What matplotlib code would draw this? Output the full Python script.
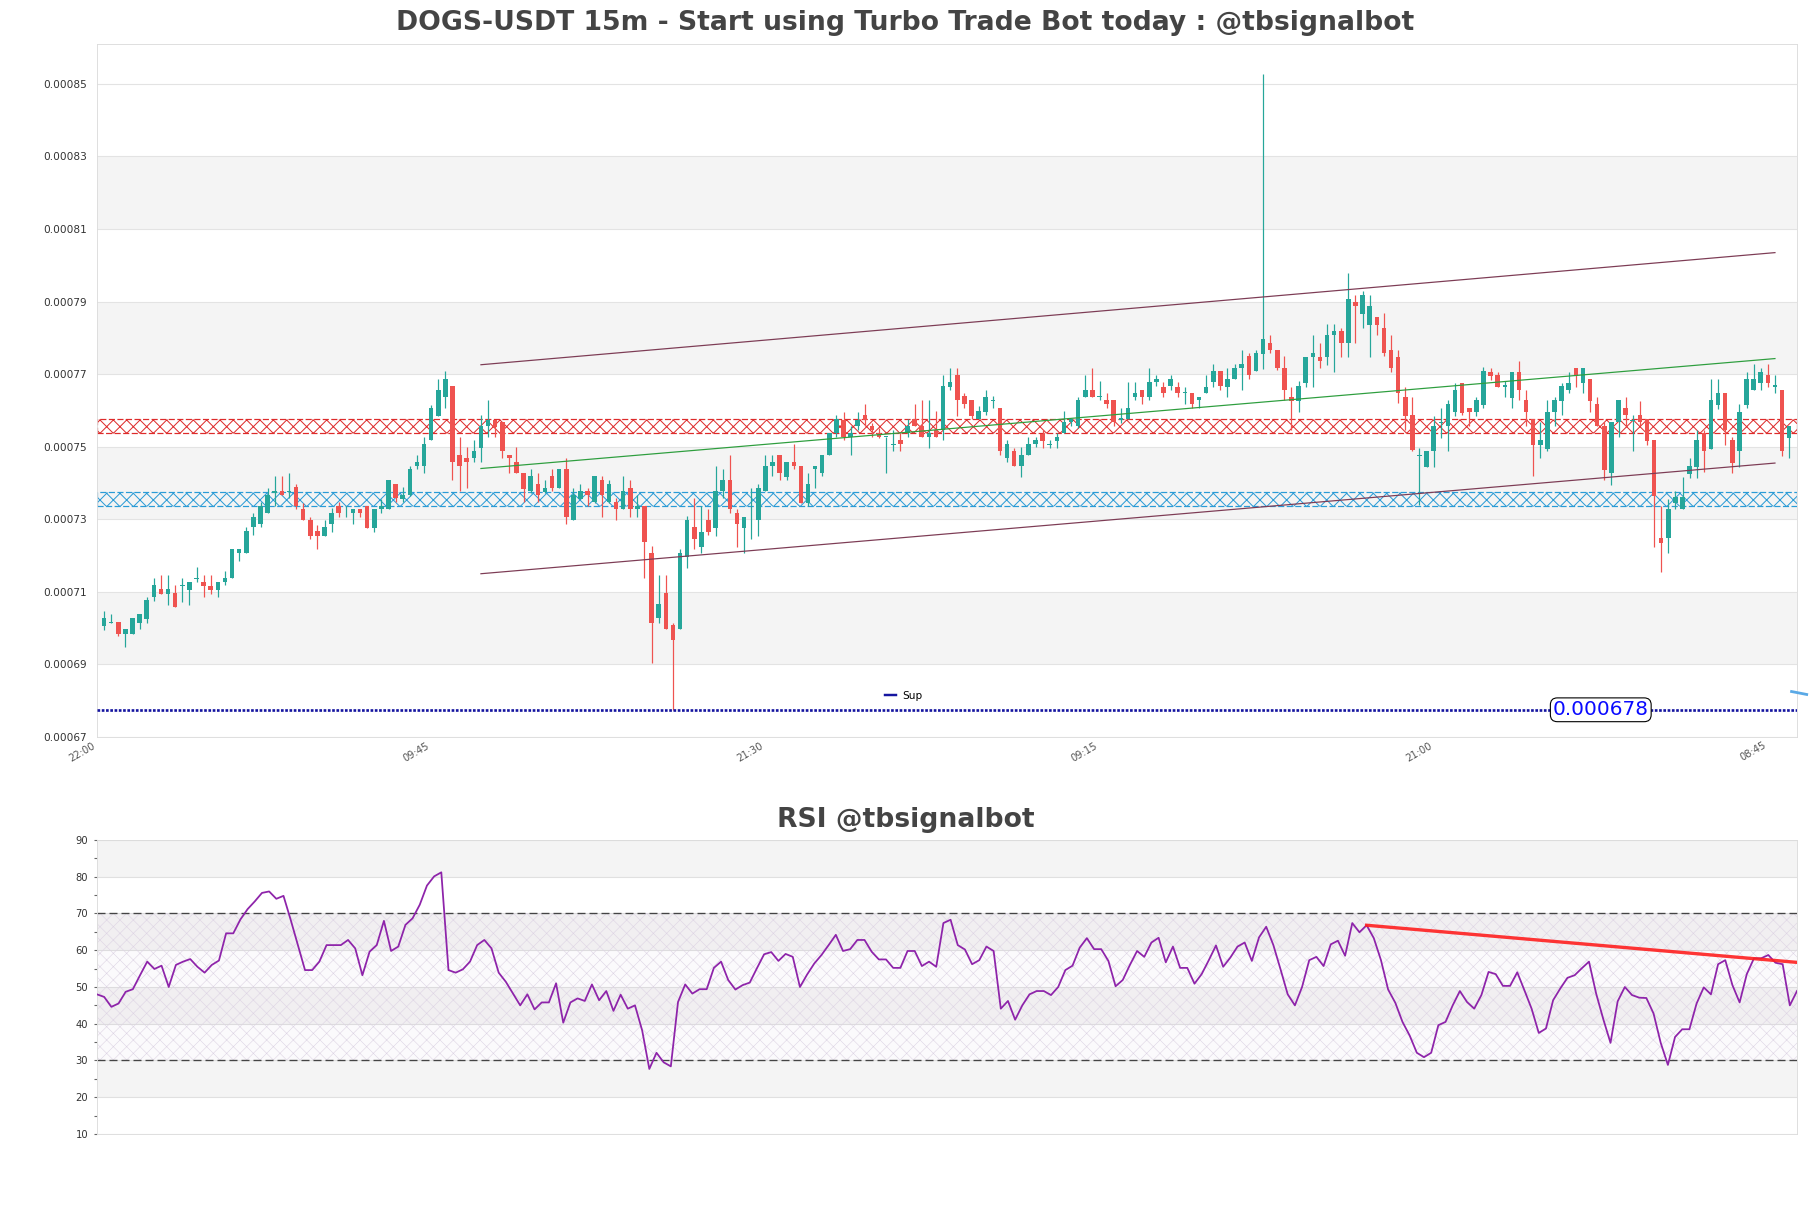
import numpy as np
import matplotlib
matplotlib.use("Agg")
import matplotlib.pyplot as plt

# ---------------- data (prices in units of 1e-6 USDT) ----------------
opens_u = [700.7, 701.5, 701.6, 698.4, 698.4, 701.5, 702.6, 708.7, 710.8, 709.5,
           709.7, 711.7, 710.6, 713.6, 712.7, 711.7, 710.6, 712.7, 713.8, 720.6,
           720.6, 727.8, 728.7, 731.7, 737.2, 737.9, 737.6, 738.8, 732.9, 729.9,
           726.8, 725.5, 728.7, 733.8, 731.6, 731.7, 732.8, 733.8, 727.7, 732.8,
           732.8, 739.8, 735.7, 736.8, 744.6, 744.6, 751.9, 758.6, 763.7, 766.8,
           747.8, 746.9, 746.9, 749.6, 755.8, 757.4, 756.7, 747.8, 745.9, 742.7,
           737.7, 739.7, 737.5, 741.8, 738.6, 743.8, 729.7, 735.7, 737.7, 734.9,
           740.9, 734.9, 734.7, 732.8, 738.6, 732.8, 733.8, 720.7, 702.7, 709.6,
           700.9, 699.7, 719.7, 727.8, 722.5, 729.8, 727.7, 737.7, 740.9, 731.7,
           727.7, 731.6, 729.8, 737.7, 744.8, 747.8, 741.6, 745.9, 744.8, 734.6,
           743.8, 742.7, 747.8, 753.8, 757.4, 752.7, 755.6, 758.8, 755.8, 753.8,
           752.6, 750.6, 751.9, 753.8, 757.6, 755.8, 752.7, 754.7, 754.7, 766.6,
           769.8, 763.9, 763.0, 757.6, 759.7, 762.7, 760.7, 746.9, 748.9, 744.6,
           747.8, 750.7, 753.6, 750.6, 751.7, 753.8, 756.7, 755.6, 763.7, 765.7,
           763.7, 763.0, 762.8, 757.4, 757.6, 763.7, 765.7, 763.7, 767.8, 766.6,
           766.8, 766.6, 764.7, 764.8, 762.8, 764.8, 767.8, 770.8, 766.6, 768.7,
           771.7, 774.9, 770.8, 775.6, 778.7, 776.7, 771.7, 763.8, 762.7, 767.7,
           774.7, 774.7, 774.7, 780.9, 781.8, 778.7, 789.8, 786.6, 783.6, 785.7,
           782.7, 776.7, 774.7, 763.8, 758.8, 747.4, 744.5, 748.9, 756.5, 755.6,
           759.7, 767.7, 760.6, 759.7, 761.6, 770.7, 769.8, 766.6, 763.4, 770.7,
           762.9, 757.6, 750.5, 749.4, 759.7, 762.7, 765.5, 771.7, 767.7, 768.6,
           761.8, 755.8, 742.7, 756.7, 760.6, 757.1, 758.8, 757.6, 751.9, 724.8,
           724.8, 734.6, 732.8, 742.5, 744.5, 753.9, 749.4, 761.6, 764.8, 751.9,
           748.7, 761.6, 765.5, 767.7, 769.8, 766.6, 765.7, 752.5]
highs_u = [704.6, 703.9, 701.6, 699.7, 702.7, 703.9, 708.7, 713.8, 714.6, 714.6,
           711.8, 713.8, 712.7, 716.8, 714.7, 714.7, 712.7, 715.8, 721.9, 721.9,
           727.8, 731.7, 734.9, 738.6, 741.8, 741.8, 742.7, 739.8, 734.5, 730.7,
           728.5, 729.8, 733.1, 734.7, 733.8, 732.8, 732.8, 733.8, 732.8, 735.7,
           740.9, 739.8, 738.8, 744.8, 747.8, 752.8, 761.6, 768.7, 770.8, 766.8,
           752.8, 749.8, 751.9, 758.8, 762.9, 757.4, 756.7, 747.8, 749.8, 742.7,
           743.8, 742.7, 740.9, 743.8, 743.8, 746.9, 738.6, 739.7, 738.6, 741.8,
           741.8, 740.9, 735.8, 741.8, 740.9, 736.8, 733.8, 722.7, 714.7, 714.7,
           701.5, 721.8, 730.8, 735.8, 733.8, 732.8, 744.8, 743.8, 747.8, 732.8,
           730.6, 738.6, 739.7, 747.8, 747.8, 747.8, 745.9, 750.8, 744.8, 742.7,
           744.8, 747.8, 753.8, 758.8, 759.7, 755.8, 759.7, 761.8, 756.5, 755.1,
           752.7, 754.7, 753.8, 757.6, 761.8, 763.0, 763.0, 759.9, 769.8, 771.7,
           771.7, 764.8, 763.0, 761.1, 765.7, 763.9, 760.7, 751.9, 749.6, 749.8,
           752.8, 752.8, 754.7, 751.9, 753.8, 759.9, 757.6, 763.7, 769.8, 771.7,
           768.0, 764.8, 762.8, 760.7, 767.8, 767.8, 765.7, 771.7, 769.8, 767.8,
           769.8, 767.8, 766.6, 764.8, 763.7, 769.8, 772.9, 770.8, 771.7, 772.9,
           776.7, 775.8, 776.7, 852.8, 780.9, 776.7, 774.9, 766.6, 768.0, 774.7,
           780.9, 778.7, 783.9, 783.9, 782.7, 797.9, 791.9, 792.8, 791.9, 785.7,
           786.8, 780.9, 776.7, 766.6, 763.8, 749.6, 748.9, 758.5, 760.6, 762.9,
           767.7, 767.7, 760.6, 763.8, 771.9, 771.7, 770.7, 768.0, 770.7, 773.5,
           765.7, 757.6, 756.7, 762.9, 763.8, 767.7, 770.7, 771.7, 771.7, 768.6,
           763.8, 756.7, 756.7, 762.9, 763.8, 758.8, 762.7, 757.6, 751.9, 733.7,
           735.5, 737.9, 741.6, 746.8, 754.7, 754.7, 768.6, 768.6, 764.8, 752.8,
           761.8, 770.7, 772.8, 771.7, 772.8, 769.8, 765.7, 755.8]
lows_u = [699.5, 701.4, 697.7, 694.7, 698.4, 699.7, 701.5, 707.6, 709.5, 706.4,
          705.7, 707.3, 706.4, 712.7, 708.7, 709.5, 708.7, 711.9, 713.8, 718.6,
          720.6, 725.7, 727.8, 731.7, 733.8, 736.6, 735.8, 732.8, 729.8, 724.6,
          721.8, 725.5, 726.6, 730.6, 730.6, 728.7, 730.6, 727.7, 726.6, 731.7,
          732.8, 734.7, 734.8, 736.3, 743.8, 742.7, 751.9, 758.6, 760.7, 740.9,
          737.7, 738.6, 745.7, 745.7, 752.8, 752.8, 746.9, 742.7, 742.7, 734.9,
          737.2, 734.9, 737.2, 737.7, 738.6, 728.7, 729.7, 735.7, 733.8, 734.5,
          730.5, 734.5, 729.8, 732.8, 730.6, 730.6, 713.8, 690.5, 701.5, 699.7,
          677.5, 699.7, 716.7, 721.8, 720.7, 725.7, 725.5, 735.8, 731.7, 722.5,
          720.7, 724.6, 725.5, 737.7, 741.8, 740.9, 740.9, 743.8, 734.6, 733.8,
          738.6, 741.8, 747.8, 752.8, 751.9, 747.8, 754.7, 755.8, 752.8, 752.4,
          742.7, 748.7, 748.7, 752.7, 755.6, 752.7, 749.6, 752.7, 751.9, 765.7,
          758.5, 760.7, 757.6, 757.6, 758.8, 760.7, 747.8, 745.7, 744.6, 741.6,
          747.8, 749.8, 749.6, 749.6, 749.6, 753.8, 755.8, 755.1, 763.7, 763.7,
          762.8, 760.7, 755.8, 756.5, 757.6, 762.8, 761.8, 763.0, 766.8, 763.7,
          765.7, 763.7, 761.8, 760.7, 760.7, 764.8, 766.6, 765.7, 763.7, 768.7,
          765.7, 768.7, 770.8, 771.4, 775.8, 771.2, 762.9, 754.7, 759.7, 766.6,
          766.6, 771.7, 772.6, 770.7, 774.7, 774.7, 778.7, 782.7, 774.7, 780.9,
          774.9, 770.7, 762.0, 754.7, 748.7, 734.0, 744.5, 744.5, 752.4, 748.7,
          758.6, 758.8, 755.6, 758.6, 760.6, 768.4, 766.4, 763.8, 760.6, 762.9,
          755.6, 741.8, 746.8, 748.7, 755.6, 758.8, 764.8, 766.6, 764.8, 759.7,
          755.6, 740.9, 739.5, 752.8, 755.6, 748.7, 755.6, 750.5, 722.5, 715.6,
          720.6, 732.8, 732.8, 741.3, 741.3, 742.9, 749.4, 760.4, 750.5, 742.7,
          744.5, 760.6, 765.5, 765.5, 766.6, 764.8, 747.5, 746.8]
closes_u = [702.7, 701.7, 698.4, 699.7, 702.7, 703.9, 707.8, 711.8, 709.5, 710.8,
            705.7, 711.9, 712.7, 713.8, 711.7, 710.6, 712.7, 713.8, 721.9, 721.9,
            726.8, 730.6, 733.8, 736.8, 737.7, 736.6, 737.8, 733.7, 729.8, 725.5,
            725.5, 727.8, 731.7, 731.7, 731.8, 732.8, 731.7, 727.7, 732.8, 733.8,
            740.9, 735.8, 736.8, 743.9, 745.9, 750.8, 760.7, 765.7, 768.7, 745.7,
            744.6, 745.7, 748.9, 755.8, 757.4, 755.4, 748.7, 746.9, 742.7, 738.4,
            741.8, 736.6, 738.6, 738.6, 743.8, 730.5, 736.8, 737.7, 736.6, 741.8,
            736.8, 739.8, 732.8, 737.9, 732.8, 733.8, 723.7, 701.5, 706.7, 699.7,
            696.8, 720.7, 729.9, 724.6, 726.6, 726.6, 737.9, 740.9, 732.8, 728.7,
            730.6, 731.8, 738.6, 744.8, 745.9, 742.7, 745.9, 744.6, 734.6, 739.8,
            744.8, 747.8, 753.8, 757.6, 752.7, 753.8, 757.4, 757.4, 754.7, 752.7,
            752.7, 750.8, 750.7, 755.8, 755.6, 752.7, 753.8, 752.7, 766.8, 767.8,
            762.8, 761.8, 758.5, 759.9, 763.7, 762.9, 748.7, 750.7, 744.6, 747.8,
            750.7, 751.9, 751.7, 750.8, 752.7, 756.7, 757.6, 762.8, 765.7, 763.7,
            763.8, 761.8, 756.7, 757.9, 760.7, 764.8, 763.7, 767.8, 768.7, 764.8,
            768.7, 764.8, 764.9, 761.8, 763.7, 766.6, 770.8, 766.8, 768.7, 771.7,
            772.9, 769.8, 775.8, 779.7, 776.7, 771.7, 765.7, 762.7, 766.8, 774.7,
            775.8, 773.5, 780.9, 781.8, 778.7, 790.7, 788.7, 791.9, 788.9, 783.6,
            775.8, 771.7, 764.8, 758.6, 749.1, 747.8, 748.9, 755.8, 756.9, 761.8,
            765.7, 759.4, 759.7, 762.9, 771.0, 769.6, 766.6, 766.9, 770.7, 765.5,
            759.7, 750.5, 751.9, 759.7, 762.9, 766.8, 767.7, 769.8, 771.7, 762.7,
            755.6, 743.6, 756.7, 762.9, 758.8, 757.3, 756.7, 751.7, 736.5, 723.6,
            732.8, 736.1, 736.1, 744.7, 751.9, 748.7, 762.9, 764.8, 754.7, 745.6,
            759.7, 768.6, 768.6, 770.7, 767.7, 766.9, 748.7, 755.8]

x_tick_labels = ["22:00", "09:45", "21:30", "09:15", "21:00", "08:45"]
x_tick_step = 47

# support / resistance zones (low, high) and support level
resist_zone_u = [753.8, 757.6]
support_zone_u = [733.8, 737.6]
sup_level_u = 677.5
sup_label = "0.000678"

# channel / trend lines: x positions (bar index) and values
trend_x = [54, 236]
upper_line_u = [772.6, 803.5]
lower_line_u = [715.0, 745.5]
mid_line_u = [744.0, 774.3]

# RSI values
rsi = [48.0, 47.3, 44.6, 45.5, 48.7, 49.4, 53.2, 56.9, 54.9, 55.8,
       50.0, 56.0, 56.9, 57.6, 55.5, 53.9, 56.0, 57.2, 64.6, 64.6,
       68.4, 71.2, 73.3, 75.6, 76.0, 74.0, 74.8, 68.3, 61.4, 54.6,
       54.6, 56.9, 61.4, 61.4, 61.4, 62.8, 60.5, 53.2, 59.6, 61.4,
       68.0, 59.8, 61.0, 66.9, 68.7, 72.4, 77.6, 80.1, 81.2, 54.6,
       53.9, 54.8, 56.9, 61.4, 62.8, 60.5, 53.9, 51.4, 48.2, 45.0,
       48.0, 43.9, 45.8, 45.8, 51.0, 40.3, 45.8,
       46.9, 46.2, 50.7, 46.4, 48.9, 43.5, 47.9, 44.1, 45.0, 38.2,
       27.7, 32.1, 29.5, 28.4, 45.9, 50.7, 48.2, 49.4, 49.4, 55.2,
       56.9, 51.9, 49.3, 50.5, 51.2, 55.1, 58.9, 59.5, 57.1, 59.0,
       58.2, 50.0, 53.4, 56.4, 58.7, 61.4, 64.2, 59.8, 60.3, 62.8,
       62.8, 59.6, 57.5, 57.5, 55.2, 55.2, 59.8, 59.8, 55.7, 56.9,
       55.5, 67.4, 68.3, 61.4, 60.2, 56.2, 57.3, 61.0, 59.8, 44.1,
       46.2, 41.1, 45.0, 48.0, 48.9, 48.9, 47.8, 50.0, 54.6, 55.8,
       60.7, 63.3, 60.3, 60.3, 57.1, 50.2, 51.9, 56.0, 59.8, 58.2,
       62.1, 63.4, 56.7, 61.0, 55.2, 55.2, 50.9,
       53.5, 57.3, 61.3, 55.5, 58.0, 61.0, 62.1, 57.1, 63.5, 66.4,
       61.4, 54.8, 48.0, 45.0, 50.0, 57.3, 58.2, 55.7, 61.6, 62.6,
       58.5, 67.4, 64.9, 66.8, 63.3, 57.3, 49.3, 45.7, 40.5, 36.8,
       32.1, 30.9, 32.1, 39.6, 40.5, 45.0, 48.9, 45.9, 44.1, 47.8,
       54.1, 53.5, 50.3, 50.3, 54.0, 49.1, 44.1, 37.5, 38.7, 46.4,
       49.6, 52.5, 53.2, 55.1, 56.9, 48.2, 41.2, 34.8, 46.1, 50.0,
       47.8, 47.1, 47.0, 42.8, 34.8, 28.8, 36.4, 38.5, 38.5, 45.5,
       49.9, 48.0, 56.2, 57.3, 50.5, 45.8, 53.5, 57.8, 57.8, 58.7,
       56.6, 56.2, 45.0, 48.9]
rsi_trend_x = [177, 237]
rsi_trend_y = [66.8, 56.7]

# ---------------- figure ----------------
U = 1e-6
opens = np.array(opens_u) * U
highs = np.array(highs_u) * U
lows = np.array(lows_u) * U
closes = np.array(closes_u) * U
n = len(opens)
xs = np.arange(1, n + 1)

DPI = 80
fig = plt.figure(figsize=(1811 / DPI, 1208 / DPI), dpi=DPI)
fig.patch.set_facecolor("white")

ax = fig.add_axes([0.05356, 0.3899, 0.93871, 0.57368])
ax2 = fig.add_axes([0.05356, 0.06126, 0.93871, 0.24338])

GREEN = "#26a69a"
RED = "#ef5350"
SPINE = "#dcdcdc"
BAND = "#f4f4f4"

# price axis ---------------------------------------------------------
yticks = np.round(np.arange(0.00067, 0.000851, 0.00002), 5)
ax.set_ylim(0.00067, 0.000861)
ax.set_xlim(0, n + 1.1)
for i in range(len(yticks) - 1):
    if i % 2 == 1:
        ax.axhspan(yticks[i], yticks[i + 1], color=BAND, zorder=0, lw=0)
ax.set_yticks(yticks)
ax.set_yticklabels([f"{v:.5f}" for v in yticks])
ax.yaxis.grid(True, color="#e3e3e3", lw=1)
ax.set_axisbelow(True)

plt.rcParams["hatch.linewidth"] = 0.9
ax.axhspan(resist_zone_u[0] * U, resist_zone_u[1] * U, facecolor="none",
           edgecolor="#dd2b2b", hatch="xx", lw=1.1, ls=(0, (5, 2)), zorder=2)
ax.axhspan(support_zone_u[0] * U, support_zone_u[1] * U, facecolor="none",
           edgecolor="#2a9bd6", hatch="xx", lw=1.1, ls=(0, (5, 2)), zorder=2)

colors = np.where(closes >= opens, GREEN, RED)
ax.vlines(xs, lows, highs, colors=colors, lw=1.1, zorder=3)
body_low = np.minimum(opens, closes)
body_h = np.maximum(np.abs(closes - opens), 0.25e-6)
ax.bar(xs, body_h, bottom=body_low, width=0.64, color=colors, lw=0, zorder=4)

ax.plot(trend_x, np.array(upper_line_u) * U, color="#7d3c55", lw=1.1, zorder=5)
ax.plot(trend_x, np.array(lower_line_u) * U, color="#7d3c55", lw=1.1, zorder=5)
ax.plot(trend_x, np.array(mid_line_u) * U, color="#2e9e3e", lw=1.1, zorder=5)

ax.axhline(sup_level_u * U, color="#1515a0", lw=2.4, ls=(0, (1, 0.6)),
           label="Sup", zorder=5)
ax.text(211.5, sup_level_u * U, sup_label, color="#0a0aff", fontsize=18,
        ha="center", va="center", zorder=6,
        bbox=dict(boxstyle="round,pad=0.12,rounding_size=0.35", fc="white",
                  ec="black", lw=1))
# small light-blue marker sticking out of the right edge
ax.plot([0.996, 1.0065], [0.066, 0.061], transform=ax.transAxes,
        color="#5aa9e6", lw=2.5, solid_capstyle="butt", clip_on=False, zorder=6)
leg = ax.legend(loc="center left", bbox_to_anchor=(0.458, 0.059), frameon=False,
                fontsize=9.5, handlelength=1.0, handletextpad=0.6)
for h in leg.get_lines():
    h.set_linestyle("-")
    h.set_linewidth(2.2)

xt = np.arange(0, n, x_tick_step)[:len(x_tick_labels)]
ax.set_xticks(xt)
ax.set_xticklabels(x_tick_labels, rotation=30, ha="right")
ax.tick_params(axis="x", length=0, pad=3, labelsize=9, colors="#555555")
ax.tick_params(axis="y", length=0, pad=9, labelsize=9.5, colors="#333333")
for s in ax.spines.values():
    s.set_color(SPINE)

# RSI axis -------------------------------------------------------------
rsi_x = np.arange(len(rsi))
ax2.set_xlim(0, len(rsi) - 1)
ax2.set_ylim(10, 90)
rticks = np.arange(10, 91, 10)
for i in range(len(rticks) - 1):
    if i % 2 == 1:
        ax2.axhspan(rticks[i], rticks[i + 1], color=BAND, zorder=0, lw=0)
ax2.set_yticks(rticks)
ax2.set_yticks(np.arange(15, 90, 10), minor=True)
ax2.yaxis.grid(True, which="major", color="#e0e0e0", lw=1)
ax2.set_axisbelow(True)
plt.rcParams["hatch.linewidth"] = 0.5
ax2.axhspan(30, 70, facecolor=(0.6, 0.45, 0.7, 0.03), edgecolor="#ddd4e4",
            hatch="xx", lw=0, zorder=1)
ax2.axhline(70, color="#444444", lw=1.2, ls=(0, (6, 3)), zorder=2)
ax2.axhline(30, color="#444444", lw=1.2, ls=(0, (6, 3)), zorder=2)
ax2.plot(rsi_x, rsi, color="#8e24aa", lw=1.6, zorder=3)
ax2.plot(rsi_trend_x, rsi_trend_y, color="#ff1f1f", lw=3.0, alpha=0.9, zorder=4)
ax2.set_xticks([])
ax2.tick_params(axis="y", which="both", length=3, width=1, color="#666666",
                pad=5, labelsize=9, labelcolor="#333333")
for s in ax2.spines.values():
    s.set_color(SPINE)

fig.text(0.5, 0.981, "DOGS-USDT 15m - Start using Turbo Trade Bot today : @tbsignalbot",
         ha="center", va="center", fontsize=24, fontweight="bold", color="#444444")
fig.text(0.5, 0.3212, "RSI @tbsignalbot", ha="center", va="center",
         fontsize=24, fontweight="bold", color="#444444")

fig.savefig("out.png", dpi=DPI)
